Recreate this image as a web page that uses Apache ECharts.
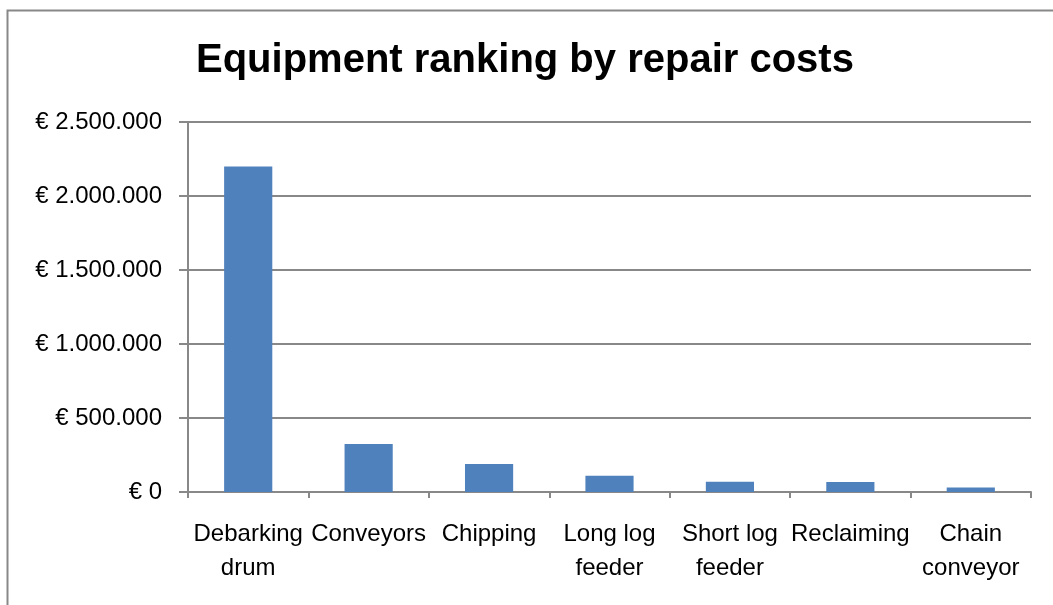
<!DOCTYPE html>
<html>
<head>
<meta charset="utf-8">
<title>Equipment ranking by repair costs</title>
<script src="https://cdn.jsdelivr.net/npm/echarts@6/dist/echarts.min.js"></script>
<style>
  html, body { margin: 0; padding: 0; background: #ffffff; }
  #chart { width: 1053px; height: 605px; }
</style>
</head>
<body>
<div id="chart"></div>
<script>
// Repair costs per equipment group (EUR)
const categories = ['Debarking\ndrum', 'Conveyors', 'Chipping', 'Long log\nfeeder', 'Short log\nfeeder', 'Reclaiming', 'Chain\nconveyor'];
const repairCosts = [2200000, 325000, 190000, 110000, 70000, 68000, 30000];
const yTicks = { min: 0, max: 2500000, interval: 500000 };

const FONT = '"Liberation Sans", Arial, sans-serif';
const GREY = '#888888';

// Euro amounts with dot thousand separators, e.g. "€ 2.500.000"
function euro(v) {
  return '€ ' + String(Math.round(v)).replace(/\B(?=(\d{3})+(?!\d))/g, '.');
}

const chart = echarts.init(document.getElementById('chart'), null, { renderer: 'canvas' });

chart.setOption({
  backgroundColor: '#ffffff',
  animation: false,
  title: {
    text: 'Equipment ranking by repair costs',
    left: 196,
    top: 41,
    padding: 0,
    textStyle: { fontFamily: FONT, fontWeight: 'bold', fontSize: 40, color: '#000000' }
  },
  graphic: [{
    type: 'rect',
    left: 5, top: 8,
    shape: { x: 0, y: 0, width: 1200, height: 800 },
    style: { fill: null, stroke: GREY, lineWidth: 2 },
    silent: true
  }],
  grid: { left: 188, right: 22, top: 122, bottom: 113, containLabel: false },
  xAxis: {
    type: 'category',
    data: categories,
    boundaryGap: true,
    axisLine: { show: true, lineStyle: { color: GREY, width: 2 } },
    axisTick: { show: true, alignWithLabel: false, length: 6, lineStyle: { color: GREY, width: 2 } },
    axisLabel: {
      interval: 0,
      margin: 25,
      fontFamily: FONT,
      fontSize: 24,
      lineHeight: 34,
      color: '#000000',
      align: 'center'
    },
    splitLine: { show: false }
  },
  yAxis: {
    type: 'value',
    min: yTicks.min,
    max: yTicks.max,
    interval: yTicks.interval,
    axisLine: { show: true, lineStyle: { color: GREY, width: 2 } },
    axisTick: { show: true, length: 9, lineStyle: { color: GREY, width: 2 } },
    axisLabel: {
      margin: 26,
      fontFamily: FONT,
      fontSize: 24,
      color: '#000000',
      formatter: euro
    },
    splitLine: { show: true, lineStyle: { color: GREY, width: 2 } }
  },
  series: [{
    type: 'bar',
    data: repairCosts,
    barWidth: '40%',
    itemStyle: { color: '#4F81BD' }
  }]
});
</script>
</body>
</html>
